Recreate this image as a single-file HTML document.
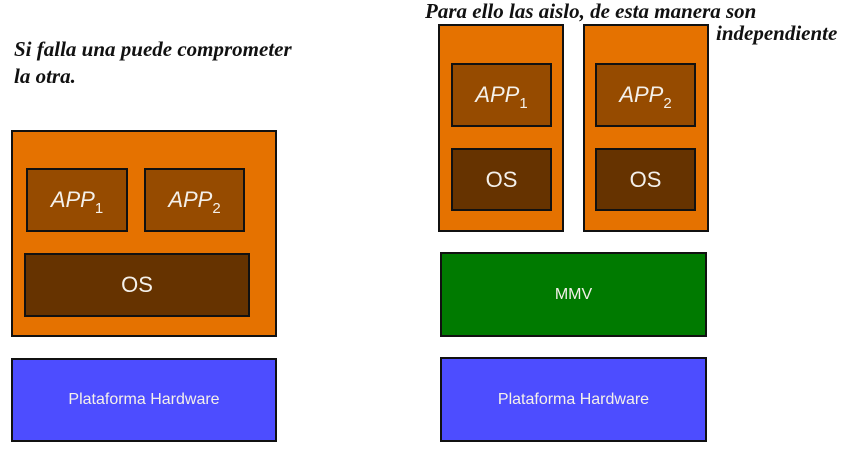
<!DOCTYPE html>
<html><head><meta charset="utf-8"><style>
html,body{margin:0;padding:0;background:#fff;width:851px;height:458px;overflow:hidden;position:relative;font-family:"Liberation Sans",sans-serif}
.b{position:absolute;box-sizing:border-box;border:2px solid #111;display:flex;align-items:center;justify-content:center;color:#f4f0ea}
.o{background:#e57200}
.a{background:#964b00;font-style:italic;font-size:22px}
.s{background:#663300;font-size:22px}
.g{background:#007a00;font-size:16px}
.h{background:#4d4dff;font-size:16px}
.sb{font-size:15px;font-style:normal;position:relative;top:6px}
.t{position:absolute;font-family:"Liberation Serif",serif;font-style:italic;font-size:21px;color:#111;white-space:nowrap;line-height:1.3;font-weight:bold}
</style></head><body>
<div class="t" style="left:14px;top:36px;">Si falla una puede comprometer<br>la otra.</div>
<div class="t" style="left:425px;top:-2px;">Para ello las aislo, de esta manera son</div>
<div class="t" style="left:716px;top:20px;">independiente</div>

<div class="b o" style="left:11px;top:130px;width:266px;height:207px"></div>
<div class="b a" style="left:26px;top:168px;width:102px;height:64px"><span>APP<span class="sb">1</span></span></div>
<div class="b a" style="left:144px;top:168px;width:101px;height:64px"><span>APP<span class="sb">2</span></span></div>
<div class="b s" style="left:24px;top:253px;width:226px;height:64px"><span>OS</span></div>
<div class="b h" style="left:11px;top:358px;width:266px;height:84px"><span>Plataforma Hardware</span></div>

<div class="b o" style="left:438px;top:24px;width:126px;height:208px"></div>
<div class="b a" style="left:451px;top:63px;width:101px;height:64px"><span>APP<span class="sb">1</span></span></div>
<div class="b s" style="left:451px;top:148px;width:101px;height:63px"><span>OS</span></div>
<div class="b o" style="left:583px;top:24px;width:126px;height:208px"></div>
<div class="b a" style="left:595px;top:63px;width:101px;height:64px"><span>APP<span class="sb">2</span></span></div>
<div class="b s" style="left:595px;top:148px;width:101px;height:63px"><span>OS</span></div>
<div class="b g" style="left:440px;top:252px;width:267px;height:85px"><span>MMV</span></div>
<div class="b h" style="left:440px;top:357px;width:267px;height:85px"><span>Plataforma Hardware</span></div>
</body></html>
